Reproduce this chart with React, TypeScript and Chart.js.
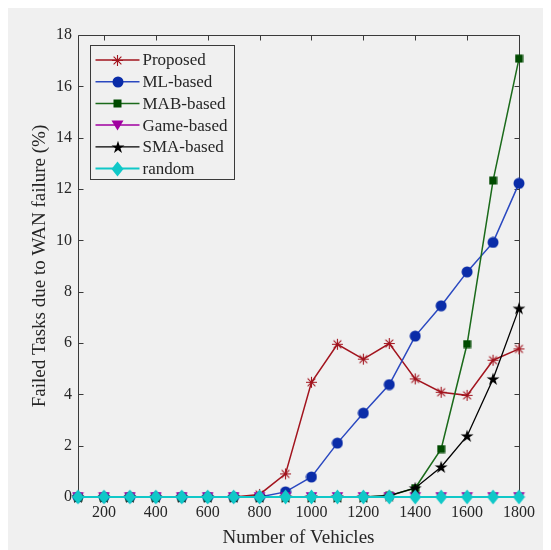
import React, { useEffect, useRef } from 'react';
import { Chart, registerables } from 'chart.js';

Chart.register(...registerables);

const vehicles = [100, 200, 300, 400, 500, 600, 700, 800, 900, 1000, 1100, 1200, 1300, 1400, 1500, 1600, 1700, 1800];
const proposed = [0, 0, 0, 0, 0, 0, 0, 0.1, 0.9, 4.47, 5.95, 5.37, 5.98, 4.6, 4.08, 3.96, 5.33, 5.77];
const mlBased = [0, 0, 0, 0, 0, 0, 0, 0, 0.2, 0.78, 2.1, 3.27, 4.38, 6.27, 7.45, 8.77, 9.92, 12.22];
const mabBased = [0, 0, 0, 0, 0, 0, 0, 0, 0, 0, 0, 0, 0.05, 0.35, 1.87, 5.96, 12.33, 17.08];
const gameBased = [0, 0, 0, 0, 0, 0, 0, 0, 0, 0, 0, 0, 0, 0, 0, 0, 0, 0];
const smaBased = [0, 0, 0, 0, 0, 0, 0, 0, 0, 0, 0, 0, 0.05, 0.35, 1.17, 2.38, 4.6, 7.35];
const randomBased = [0, 0, 0, 0, 0, 0, 0, 0, 0, 0, 0, 0, 0, 0, 0, 0, 0, 0];

const seriesNames = ['Proposed', 'ML-based', 'MAB-based', 'Game-based', 'SMA-based', 'random'];
const xTickValues = [200, 400, 600, 800, 1000, 1200, 1400, 1600, 1800];
const yTickValues = [0, 2, 4, 6, 8, 10, 12, 14, 16, 18];

const FONT = '"Liberation Serif", "Times New Roman", serif';
const TEXT = '#262626';

function mk(w: number, h: number, draw: (c: CanvasRenderingContext2D) => void) {
  const cv = document.createElement('canvas');
  cv.width = w;
  cv.height = h;
  const c = cv.getContext('2d')!;
  draw(c);
  return cv;
}

function makeMarkers() {
  const asterisk = mk(13, 13, (c) => {
    c.strokeStyle = '#a2141e';
    c.lineWidth = 1.1;
    const cx = 6.5, cy = 6.5, r = 5.5, d = r * Math.SQRT1_2;
    c.beginPath();
    c.moveTo(cx - r, cy); c.lineTo(cx + r, cy);
    c.moveTo(cx, cy - r); c.lineTo(cx, cy + r);
    c.moveTo(cx - d, cy - d); c.lineTo(cx + d, cy + d);
    c.moveTo(cx - d, cy + d); c.lineTo(cx + d, cy - d);
    c.stroke();
  });
  const circle = mk(12, 12, (c) => {
    c.fillStyle = '#0a2ca8';
    c.beginPath();
    c.arc(6, 6, 5.5, 0, Math.PI * 2);
    c.fill();
  });
  const square = mk(9, 9, (c) => {
    c.fillStyle = '#004a00';
    c.fillRect(0.5, 0.5, 8, 8);
  });
  const triangle = mk(13, 11, (c) => {
    c.fillStyle = '#a000a0';
    c.beginPath();
    c.moveTo(0.5, 0.5); c.lineTo(12.5, 0.5); c.lineTo(6.5, 10.5);
    c.closePath();
    c.fill();
  });
  const star = mk(14, 14, (c) => {
    c.fillStyle = '#000000';
    const cx = 7, cy = 7.5, R = 6.8, r = R * 0.382;
    c.beginPath();
    for (let i = 0; i < 10; i++) {
      const rad = i % 2 === 0 ? R : r;
      const a = -Math.PI / 2 + (i * Math.PI) / 5;
      const x = cx + rad * Math.cos(a);
      const y = cy + rad * Math.sin(a);
      if (i === 0) c.moveTo(x, y); else c.lineTo(x, y);
    }
    c.closePath();
    c.fill();
  });
  const diamond = mk(13, 16, (c) => {
    c.fillStyle = '#10c8c8';
    c.beginPath();
    c.moveTo(6.5, 0.5); c.lineTo(12.5, 8); c.lineTo(6.5, 15.5); c.lineTo(0.5, 8);
    c.closePath();
    c.fill();
  });
  return [asterisk, circle, square, triangle, star, diamond];
}

const lineColors = ['#a2141e', '#2a48c0', '#1a6a1a', '#a000a0', '#000000', '#10c8c8'];
const lineWidths = [1.5, 1.5, 1.5, 1.5, 1.3, 2];

export default function App() {
  const ref = useRef<HTMLCanvasElement | null>(null);

  useEffect(() => {
    if (!ref.current) return;
    const markers = makeMarkers();
    const values = [proposed, mlBased, mabBased, gameBased, smaBased, randomBased];

    const framePlugin = {
      id: 'frame',
      beforeDatasetsDraw(chart: any) {
        const { ctx, chartArea: a, scales } = chart;
        ctx.save();
        ctx.strokeStyle = '#3a3a3a';
        ctx.lineWidth = 1;
        const L = Math.round(a.left) + 0.5, R = Math.round(a.right) + 0.5;
        const T = Math.round(a.top) + 0.5, B = Math.round(a.bottom) + 0.5;
        ctx.beginPath();
        ctx.rect(L, T, R - L, B - T);
        const tl = 5;
        for (const v of xTickValues) {
          const x = Math.round(scales.x.getPixelForValue(v)) + 0.5;
          ctx.moveTo(x, B); ctx.lineTo(x, B - tl);
          ctx.moveTo(x, T); ctx.lineTo(x, T + tl);
        }
        for (const v of yTickValues) {
          const y = Math.round(scales.y.getPixelForValue(v)) + 0.5;
          ctx.moveTo(L, y); ctx.lineTo(L + tl, y);
          ctx.moveTo(R, y); ctx.lineTo(R - tl, y);
        }
        ctx.stroke();
        ctx.restore();
      },
    };

    const legendPlugin = {
      id: 'boxLegend',
      afterDraw(chart: any) {
        const { ctx } = chart;
        const bx = 82.5, by = 37.5, bw = 144, bh = 134;
        ctx.save();
        ctx.fillStyle = '#f0f0f0';
        ctx.strokeStyle = '#3a3a3a';
        ctx.lineWidth = 1;
        ctx.fillRect(bx, by, bw, bh);
        ctx.strokeRect(bx, by, bw, bh);
        ctx.font = `17px ${FONT}`;
        ctx.textBaseline = 'middle';
        ctx.textAlign = 'left';
        for (let i = 0; i < seriesNames.length; i++) {
          const y = by + 14.5 + i * 21.7;
          ctx.strokeStyle = lineColors[i];
          ctx.lineWidth = lineWidths[i];
          ctx.beginPath();
          ctx.moveTo(bx + 5, y);
          ctx.lineTo(bx + 49, y);
          ctx.stroke();
          const m = markers[i];
          ctx.drawImage(m, Math.round(bx + 27 - m.width / 2), Math.round(y - m.height / 2));
          ctx.fillStyle = TEXT;
          ctx.fillText(seriesNames[i], bx + 52, y + 1);
        }
        ctx.restore();
      },
    };

    const chart = new Chart(ref.current, {
      type: 'line',
      data: {
        datasets: seriesNames.map((name, i) => ({
          label: name,
          data: vehicles.map((v, j) => ({ x: v, y: values[i][j] })),
          borderColor: lineColors[i],
          backgroundColor: lineColors[i],
          borderWidth: lineWidths[i],
          pointStyle: markers[i] as any,
          pointRadius: 6,
          pointHoverRadius: 6,
          tension: 0,
          fill: false,
          clip: false as any,
          order: seriesNames.length - i,
        })),
      },
      options: {
        responsive: false,
        animation: false,
        events: [],
        layout: { padding: { left: 0, top: 27, right: 32, bottom: 0 } },
        plugins: {
          legend: { display: false },
          tooltip: { enabled: false },
        },
        scales: {
          x: {
            type: 'linear',
            min: 100,
            max: 1800,
            grid: { display: false, drawTicks: false },
            border: { display: false },
            afterBuildTicks: (s: any) => {
              s.ticks = xTickValues.map((v) => ({ value: v }));
            },
            afterFit: (s: any) => {
              s.height = 53;
            },
            ticks: {
              padding: 6,
              color: TEXT,
              font: { family: FONT, size: 16 },
              maxRotation: 0,
              autoSkip: false,
              callback: (v: any) => String(v),
            },
            title: {
              display: true,
              text: 'Number of Vehicles',
              color: TEXT,
              font: { family: FONT, size: 19 },
              padding: { top: 0, bottom: 1 },
            },
          },
          y: {
            type: 'linear',
            min: 0,
            max: 18,
            grid: { display: false, drawTicks: false },
            border: { display: false },
            afterBuildTicks: (s: any) => {
              s.ticks = yTickValues.map((v) => ({ value: v }));
            },
            afterFit: (s: any) => {
              s.width = 70;
            },
            ticks: {
              padding: 6,
              color: TEXT,
              font: { family: FONT, size: 16 },
              autoSkip: false,
              callback: (v: any) => String(v),
            },
            title: {
              display: true,
              text: 'Failed Tasks due to WAN failure (%)',
              color: TEXT,
              font: { family: FONT, size: 19 },
              padding: { top: 21, bottom: 0 },
            },
          },
        },
      },
      plugins: [framePlugin, legendPlugin],
    });

    return () => chart.destroy();
  }, []);

  return (
    <div style={{ width: 543, height: 542, background: '#f0f0f0' }}>
      <canvas ref={ref} width={543} height={542} style={{ display: 'block' }} />
    </div>
  );
}
